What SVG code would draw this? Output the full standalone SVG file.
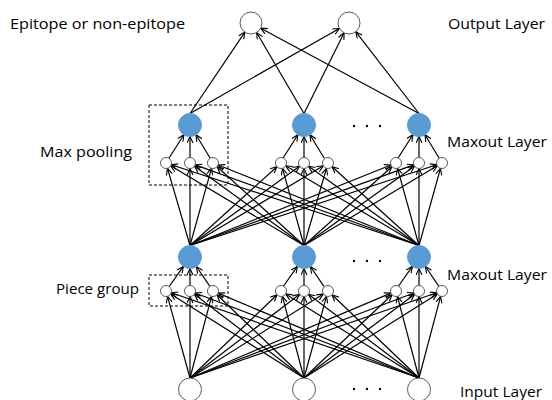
<svg xmlns="http://www.w3.org/2000/svg" width="552" height="400" viewBox="0 0 552 400">
<style>
.lbl{font-family:"Open Sans","Liberation Sans",sans-serif;font-size:15px;fill:#000}
.open{fill:#fff;stroke:#595959;stroke-width:1}
.blue{fill:#5B9BD5;stroke:#5B9BD5;stroke-width:1}
.box{fill:none;stroke:#000;stroke-width:1;stroke-dasharray:3 2}
.dot{fill:#000}
#connectors line{stroke:#000;stroke-width:1.2;marker-end:url(#arr)}
</style>
<defs>
<marker id="arr" markerUnits="userSpaceOnUse" markerWidth="9" markerHeight="9" refX="7" refY="3.5" orient="auto">
<path d="M0.5,0.5 L7,3.5 L0.5,6.5" fill="none" stroke="#000" stroke-width="1.1"/>
</marker>
</defs>
<rect width="552" height="400" fill="#fff"/>

<g id="labels">
<text class="lbl" x="10" y="29" textLength="175" lengthAdjust="spacingAndGlyphs">Epitope or non-epitope</text>
<text class="lbl" x="448" y="29" textLength="97" lengthAdjust="spacingAndGlyphs">Output Layer</text>
<text class="lbl" x="447" y="147" textLength="100" lengthAdjust="spacingAndGlyphs">Maxout Layer</text>
<text class="lbl" x="447" y="280" textLength="100" lengthAdjust="spacingAndGlyphs">Maxout Layer</text>
<text class="lbl" x="460" y="397" textLength="82" lengthAdjust="spacingAndGlyphs">Input Layer</text>
<text class="lbl" x="40" y="157" textLength="92" lengthAdjust="spacingAndGlyphs">Max pooling</text>
<text class="lbl" x="56" y="294" textLength="83" lengthAdjust="spacingAndGlyphs">Piece group</text>
</g>

<g id="boxes">
<rect class="box" x="149" y="105" width="79" height="80"/>
<rect class="box" x="149" y="275" width="79" height="31"/>
</g>

<g id="connectors">
<!-- input to lower pieces -->
<line x1="190" y1="378" x2="167.5" y2="296.3"/>
<line x1="190" y1="378" x2="190" y2="296.5"/>
<line x1="190" y1="378" x2="211.6" y2="296.3"/>
<line x1="190" y1="378" x2="277" y2="294.8"/>
<line x1="190" y1="378" x2="299.6" y2="294.3"/>
<line x1="190" y1="378" x2="323.3" y2="293.9"/>
<line x1="190" y1="378" x2="390.9" y2="293.1"/>
<line x1="190" y1="378" x2="413.9" y2="293"/>
<line x1="190" y1="378" x2="436.8" y2="292.8"/>
<line x1="304" y1="378" x2="170.7" y2="293.9"/>
<line x1="304" y1="378" x2="194.4" y2="294.3"/>
<line x1="304" y1="378" x2="217" y2="294.8"/>
<line x1="304" y1="378" x2="282.4" y2="296.3"/>
<line x1="304" y1="378" x2="304" y2="296.5"/>
<line x1="304" y1="378" x2="326.5" y2="296.3"/>
<line x1="304" y1="378" x2="392" y2="294.8"/>
<line x1="304" y1="378" x2="414.6" y2="294.3"/>
<line x1="304" y1="378" x2="437.3" y2="293.9"/>
<line x1="419" y1="378" x2="171.2" y2="292.8"/>
<line x1="419" y1="378" x2="195.1" y2="293"/>
<line x1="419" y1="378" x2="218.1" y2="293.1"/>
<line x1="419" y1="378" x2="285.7" y2="293.9"/>
<line x1="419" y1="378" x2="308.4" y2="294.3"/>
<line x1="419" y1="378" x2="332" y2="294.8"/>
<line x1="419" y1="378" x2="397.4" y2="296.3"/>
<line x1="419" y1="378" x2="419" y2="296.5"/>
<line x1="419" y1="378" x2="440.6" y2="296.3"/>
<!-- lower pieces to lower maxout -->
<line x1="169.2" y1="286.5" x2="183.4" y2="266.4"/>
<line x1="190" y1="285.5" x2="190" y2="268.5"/>
<line x1="209.9" y1="286.4" x2="196.4" y2="266.5"/>
<line x1="283.2" y1="286.5" x2="297.4" y2="266.4"/>
<line x1="304" y1="285.5" x2="304" y2="268.5"/>
<line x1="323.9" y1="286.4" x2="310.4" y2="266.5"/>
<line x1="398.2" y1="286.5" x2="412.4" y2="266.4"/>
<line x1="419" y1="285.5" x2="419" y2="268.5"/>
<line x1="438.9" y1="286.4" x2="425.4" y2="266.5"/>
<!-- lower maxout to upper pieces -->
<line x1="190" y1="245.5" x2="167.5" y2="168.3"/>
<line x1="190" y1="245.5" x2="190" y2="168.5"/>
<line x1="190" y1="245.5" x2="211.5" y2="168.3"/>
<line x1="190" y1="245.5" x2="276.9" y2="166.7"/>
<line x1="190" y1="245.5" x2="299.5" y2="166.2"/>
<line x1="190" y1="245.5" x2="323.3" y2="165.8"/>
<line x1="190" y1="245.5" x2="390.9" y2="165"/>
<line x1="190" y1="245.5" x2="413.8" y2="164.9"/>
<line x1="190" y1="245.5" x2="436.8" y2="164.7"/>
<line x1="304" y1="245.5" x2="170.7" y2="165.8"/>
<line x1="304" y1="245.5" x2="194.5" y2="166.2"/>
<line x1="304" y1="245.5" x2="217.1" y2="166.7"/>
<line x1="304" y1="245.5" x2="282.5" y2="168.3"/>
<line x1="304" y1="245.5" x2="304" y2="168.5"/>
<line x1="304" y1="245.5" x2="326.5" y2="168.3"/>
<line x1="304" y1="245.5" x2="391.9" y2="166.7"/>
<line x1="304" y1="245.5" x2="414.5" y2="166.2"/>
<line x1="304" y1="245.5" x2="437.3" y2="165.8"/>
<line x1="419" y1="245.5" x2="171.2" y2="164.7"/>
<line x1="419" y1="245.5" x2="195.2" y2="164.9"/>
<line x1="419" y1="245.5" x2="218.1" y2="165"/>
<line x1="419" y1="245.5" x2="285.7" y2="165.8"/>
<line x1="419" y1="245.5" x2="308.5" y2="166.2"/>
<line x1="419" y1="245.5" x2="332.1" y2="166.7"/>
<line x1="419" y1="245.5" x2="397.5" y2="168.3"/>
<line x1="419" y1="245.5" x2="419" y2="168.5"/>
<line x1="419" y1="245.5" x2="440.5" y2="168.3"/>
<!-- upper pieces to upper maxout -->
<line x1="168.9" y1="158.3" x2="183.9" y2="134.7"/>
<line x1="190" y1="157.5" x2="190" y2="136.5"/>
<line x1="210.2" y1="158.3" x2="196" y2="134.7"/>
<line x1="282.9" y1="158.3" x2="297.9" y2="134.7"/>
<line x1="304" y1="157.5" x2="304" y2="136.5"/>
<line x1="324.2" y1="158.3" x2="310" y2="134.7"/>
<line x1="397.9" y1="158.3" x2="412.9" y2="134.7"/>
<line x1="419" y1="157.5" x2="419" y2="136.5"/>
<line x1="439.2" y1="158.3" x2="425" y2="134.7"/>
<!-- upper maxout to outputs -->
<line x1="190" y1="113.5" x2="244.9" y2="32.1"/>
<line x1="190" y1="113.5" x2="339.4" y2="28.4"/>
<line x1="304" y1="113.5" x2="256.6" y2="32.5"/>
<line x1="304" y1="113.5" x2="344.1" y2="32.8"/>
<line x1="419" y1="113.5" x2="260.7" y2="28.2"/>
<line x1="419" y1="113.5" x2="355.7" y2="31.7"/>
</g>

<g id="output1"><circle class="open" cx="251" cy="23" r="11"/></g>
<g id="output2"><circle class="open" cx="349" cy="23" r="11"/></g>

<g id="maxout-upper-1"><circle class="blue" cx="190" cy="125" r="11.5"/></g>
<g id="maxout-upper-2"><circle class="blue" cx="304" cy="125" r="11.5"/></g>
<g id="maxout-upper-3"><circle class="blue" cx="419" cy="125" r="11.5"/></g>

<g id="pieces-upper">
<circle class="open" cx="166" cy="163" r="5.5"/>
<circle class="open" cx="190" cy="163" r="5.5"/>
<circle class="open" cx="213" cy="163" r="5.5"/>
<circle class="open" cx="281" cy="163" r="5.5"/>
<circle class="open" cx="304" cy="163" r="5.5"/>
<circle class="open" cx="328" cy="163" r="5.5"/>
<circle class="open" cx="396" cy="163" r="5.5"/>
<circle class="open" cx="419" cy="163" r="5.5"/>
<circle class="open" cx="442" cy="163" r="5.5"/>
</g>

<g id="maxout-lower-1"><circle class="blue" cx="190" cy="257" r="11.5"/></g>
<g id="maxout-lower-2"><circle class="blue" cx="304" cy="257" r="11.5"/></g>
<g id="maxout-lower-3"><circle class="blue" cx="419" cy="257" r="11.5"/></g>

<g id="pieces-lower">
<circle class="open" cx="166" cy="291" r="5.5"/>
<circle class="open" cx="190" cy="291" r="5.5"/>
<circle class="open" cx="213" cy="291" r="5.5"/>
<circle class="open" cx="281" cy="291" r="5.5"/>
<circle class="open" cx="304" cy="291" r="5.5"/>
<circle class="open" cx="328" cy="291" r="5.5"/>
<circle class="open" cx="396" cy="291" r="5.5"/>
<circle class="open" cx="419" cy="291" r="5.5"/>
<circle class="open" cx="442" cy="291" r="5.5"/>
</g>

<g id="input1"><circle class="open" cx="190" cy="389.5" r="11.5"/></g>
<g id="input2"><circle class="open" cx="304" cy="389.5" r="11.5"/></g>
<g id="input3"><circle class="open" cx="419" cy="389.5" r="11.5"/></g>

<g id="ellipses">
<circle class="dot" cx="354" cy="126" r="1.2"/>
<circle class="dot" cx="367" cy="126" r="1.2"/>
<circle class="dot" cx="380" cy="126" r="1.2"/>
<circle class="dot" cx="354" cy="261" r="1.2"/>
<circle class="dot" cx="367" cy="261" r="1.2"/>
<circle class="dot" cx="380" cy="261" r="1.2"/>
<circle class="dot" cx="354" cy="389" r="1.2"/>
<circle class="dot" cx="367" cy="389" r="1.2"/>
<circle class="dot" cx="380" cy="389" r="1.2"/>
</g>
</svg>
